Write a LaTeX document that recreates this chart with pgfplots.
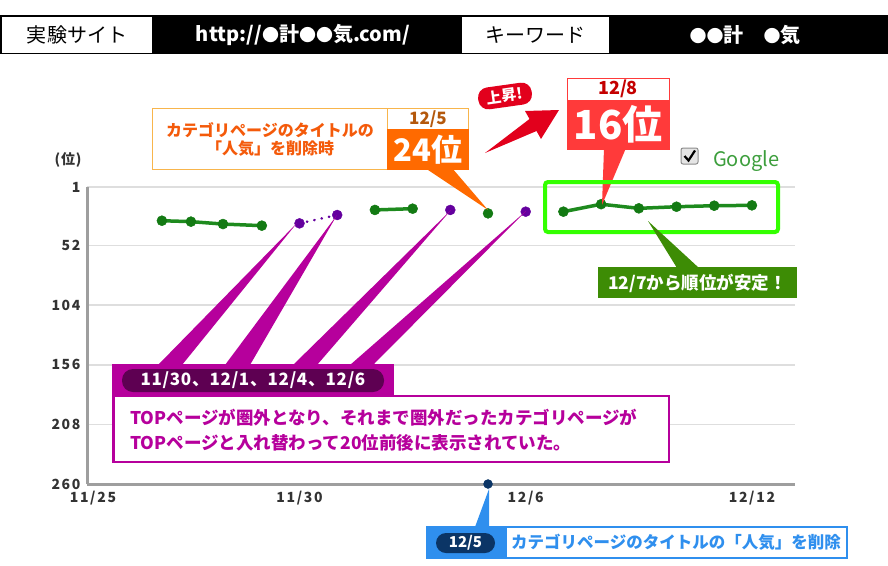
\documentclass[border=0pt]{standalone}
\usepackage{pgfplots}
\pgfplotsset{compat=1.18}
\usepackage{fontspec}
\setmainfont{Noto Sans CJK JP}

\definecolor{gline}{HTML}{1E8A1E}
\definecolor{gmark}{HTML}{137A13}
\definecolor{pmark}{HTML}{64009E}
\definecolor{orfill}{HTML}{FF6A00}
\definecolor{orline}{HTML}{F8B54C}
\definecolor{ortext}{HTML}{F45A0A}
\definecolor{orbrown}{HTML}{B4580C}
\definecolor{rdfill}{HTML}{FF3A3A}
\definecolor{rdtext}{HTML}{C40000}
\definecolor{rdarrow}{HTML}{E2001C}
\definecolor{limec}{HTML}{33FF00}
\definecolor{gbox}{HTML}{3D8C05}
\definecolor{mag}{HTML}{B6009C}
\definecolor{magdark}{HTML}{5E0052}
\definecolor{bl}{HTML}{2F8FEE}
\definecolor{navy}{HTML}{0B3566}
\definecolor{tickc}{HTML}{333333}
\definecolor{ggl}{HTML}{3C9E3C}

\newcommand\fs[1]{\fontsize{#1}{#1}\selectfont}
\newcommand\bul{{\fs{17}●}}

\begin{document}
\begin{tikzpicture}
\useasboundingbox (0pt,0pt) rectangle (888pt,-565pt);

% header bar and unit label (pixel coordinates, y downward)
\begin{scope}[x=1pt,y=-1pt]
\fill[black] (0,15) rectangle (888,54);
\filldraw[fill=white,draw=black,line width=1.5pt] (0.75,15.75) rectangle (153,53.25);
\filldraw[fill=white,draw=black,line width=1.5pt] (461,15.75) rectangle (610,53.25);
\node[font=\fs{20}] at (77,35) {実験サイト};
\node[font=\fs{20}\bfseries,text=white] at (303,35) {http://\bul 計\bul\bul 気.com/};
\node[font=\fs{20}] at (535,35) {キーワード};
\node[font=\fs{20}\bfseries,text=white] at (745,35) {\bul\bul 計　\bul 気};
\node[font=\fs{14}\bfseries\addfontfeatures{LetterSpace=6},text=tickc] at (68,160) {(位)};
\end{scope}

\begin{axis}[
  at={(441pt,-335.5pt)}, anchor=center,
  scale only axis, width=708pt, height=297pt,
  xmin=-0.637, xmax=18.143,
  ymin=1, ymax=260, y dir=reverse,
  axis x line*=bottom, axis y line*=left,
  axis line style={draw=black!38, line width=3pt},
  ymajorgrids, grid style={draw=black!13, line width=1.6pt},
  major tick length=0pt,
  ytick={1,52,104,156,208,260},
  xtick={-0.48,5,11,17},
  xticklabels={11/25,11/30,12/6,12/12},
  tick label style={font=\fs{14}\bfseries\addfontfeatures{LetterSpace=12}, text=tickc},
  yticklabel style={xshift=-3pt},
  xticklabel style={yshift=-4pt},
  /pgf/number format/assume math mode=true,
  clip=false,
]
% rank of the site, day 0 = 11/25
\addplot[gline, line width=3.5pt, mark=*, mark size=5pt,
  mark options={solid, fill=gmark, draw=gmark, line width=0.5pt}]
  coordinates {(1.35,30.4) (2.12,31.2) (2.97,33.3) (4.0,34.7)};
\addplot[pmark, line width=2.5pt, line cap=round, dash pattern=on 0.5pt off 7pt]
  coordinates {(5,32.7) (6,25.4)};
\addplot[gline, line width=3.5pt, mark=*, mark size=5pt,
  mark options={solid, fill=gmark, draw=gmark, line width=0.5pt}]
  coordinates {(7,21) (8,19.9)};
\addplot[only marks, mark=*, mark size=5pt, mark options={fill=gmark, draw=gmark}]
  coordinates {(10,24)};
\addplot[gline, line width=3.5pt, mark=*, mark size=5pt,
  mark options={solid, fill=gmark, draw=gmark, line width=0.5pt}]
  coordinates {(12,22.5) (13,16) (14,19.6) (15,18.2) (16,17.3) (17,17)};
% category page ranked instead of the top page
\addplot[only marks, mark=*, mark size=5pt, mark options={fill=pmark, draw=pmark}]
  coordinates {(5,32.7) (6,25.4) (9,21) (11,22.5)};
% 12/5 marker on the date axis
\addplot[only marks, mark=*, mark size=4.5pt, mark options={fill=navy, draw=navy}]
  coordinates {(10,260)};
\end{axis}

% callouts (pixel coordinates, y downward)
\begin{scope}[x=1pt,y=-1pt]
% orange: 12/5 24th
\fill[orfill] (425,168) -- (452,168) -- (488,210) -- cycle;
\filldraw[fill=white,draw=orline,line width=1pt] (152,108) rectangle (468,169);
\draw[orline,line width=1pt] (387,108) -- (387,169);
\fill[orfill] (386.5,129) rectangle (468.5,169.5);
\node[font=\fs{16}\bfseries,text=ortext] at (270,130) {カテゴリページのタイトルの};
\node[font=\fs{16}\bfseries,text=ortext] at (270,149) {「人気」を削除時};
\node[font=\fs{17}\bfseries,text=orbrown] at (428,119) {12/5};
\node[font=\fs{31}\bfseries,text=white] at (428,150) {24位};

% red: 12/8 16th
\fill[rdfill] (604,148) -- (626,148) -- (602,205) -- cycle;
\filldraw[fill=white,draw=rdfill,line width=1pt] (567,78) rectangle (669,100);
\fill[rdfill] (566.5,100) rectangle (669.5,150);
\node[font=\fs{18}\bfseries,text=rdtext] at (618,89) {12/8};
\node[font=\fs{40}\bfseries,text=white] at (618,124) {16位};
\fill[rdarrow, rotate around={8:(505,96)}, rounded corners=10pt] (478,85) rectangle (532,107);
\node[rotate=8, inner sep=0pt, font=\fs{15}\bfseries, text=white] at (505,96) {上昇!};
\fill[rdarrow] (485,153) -- (529.5,119) -- (525,111) -- (559,110) -- (541,139) -- (536.5,131) -- cycle;

% legend
\filldraw[fill=black!10,draw=black!45,rounded corners=2pt,line width=1pt] (681,148) rectangle (698,164);
\draw[black,line width=2.2pt] (684.5,156) -- (688.5,160.5) -- (695,150.5);
\node[anchor=west,font=\fs{20},text=ggl,inner sep=0pt] at (713,161) {Google};

% green: stable from 12/7
\draw[limec,line width=4pt,rounded corners=3pt] (545,182) rectangle (778,232);
\fill[gbox] (648,221) -- (677,268) -- (699,268) -- cycle;
\fill[gbox] (598,267) rectangle (797,298);
\node[font=\fs{17.5}\bfseries,text=white] at (697.5,283) {12/7から順位が安定！};

% magenta: 11/30, 12/1, 12/4, 12/6
\fill[mag] (158,365) -- (182,365) -- (297,223) -- cycle;
\fill[mag] (225,365) -- (250,365) -- (337,215) -- cycle;
\fill[mag] (293,365) -- (317,365) -- (451,210) -- cycle;
\fill[mag] (350,365) -- (373,365) -- (526,211) -- cycle;
\fill[mag] (112,364) rectangle (394,397);
\filldraw[fill=white,draw=mag,line width=2.5pt] (113.25,396) rectangle (669,462);
\fill[magdark,rounded corners=11pt] (122,369) rectangle (384,392);
\node[font=\fs{17}\bfseries\addfontfeatures{LetterSpace=4},text=white] at (253,380.5) {11/30、12/1、12/4、12/6};
\node[anchor=west,font=\fs{17.5}\bfseries,text=mag,inner sep=0pt] at (130,418)
  {TOPページが圏外となり、それまで圏外だったカテゴリページが};
\node[anchor=west,font=\fs{17.5}\bfseries,text=mag,inner sep=0pt] at (130,443)
  {TOPページと入れ替わって20位前後に表示されていた。};

% blue: 12/5 title change
\fill[bl] (489,489) -- (475,527) -- (489,527) -- cycle;
\fill[bl] (426,526) rectangle (506,559);
\filldraw[fill=white,draw=bl,line width=2pt] (506,527) rectangle (847,558);
\fill[navy,rounded corners=10pt] (436,533) rectangle (495,553);
\node[font=\fs{15}\bfseries,text=white] at (465.5,543) {12/5};
\node[font=\fs{16.5}\bfseries,text=bl] at (676,542) {カテゴリページのタイトルの「人気」を削除};
\end{scope}
\end{tikzpicture}
\end{document}
